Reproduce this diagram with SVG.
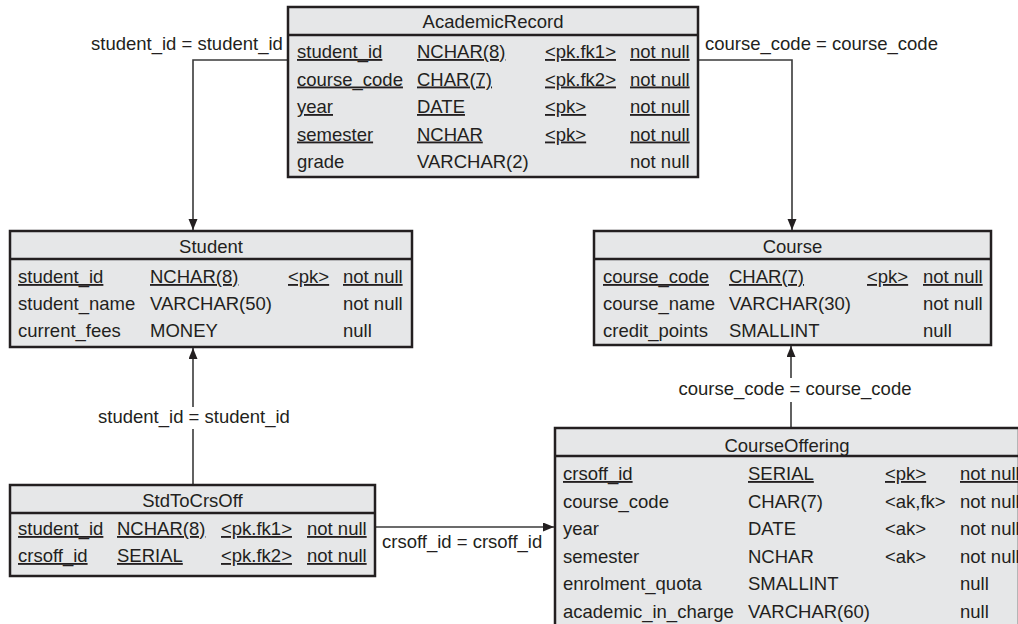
<svg xmlns="http://www.w3.org/2000/svg" width="1018" height="624" viewBox="0 0 1018 624">
  <style>
    text { font-family: "Liberation Sans", Arial, sans-serif; font-size: 18.5px; fill: #231f20; }
    .title { text-anchor: middle; }
    .u { text-decoration: underline; text-underline-offset: 3px; }
    .box { fill: #e6e7e8; stroke: #231f20; stroke-width: 2.5; }
    .div { stroke: #231f20; stroke-width: 2.5; }
    .conn { fill: none; stroke: #3a3a3a; stroke-width: 1.6; }
  </style>
  <defs>
    <marker id="arrow" markerUnits="userSpaceOnUse" markerWidth="12" markerHeight="10" refX="11" refY="4.5" orient="auto">
      <path d="M0,0 L11,4.5 L0,9 Z" fill="#231f20"/>
    </marker>
  </defs>
  <rect width="1018" height="624" fill="#ffffff"/>

  <!-- connectors -->
  <g id="connectors">
    <polyline class="conn" points="288,60 193,60 193,230" marker-end="url(#arrow)"/>
    <text x="91" y="50">student_id = student_id</text>

    <polyline class="conn" points="698,60 792,60 792,230" marker-end="url(#arrow)"/>
    <text x="705" y="50">course_code = course_code</text>

    <line class="conn" x1="193" y1="485" x2="193" y2="429"/>
    <line class="conn" x1="193" y1="407" x2="193" y2="348" marker-end="url(#arrow)"/>
    <text x="194" y="423" class="title">student_id = student_id</text>

    <line class="conn" x1="791" y1="428" x2="791" y2="402"/>
    <line class="conn" x1="791" y1="378" x2="791" y2="346" marker-end="url(#arrow)"/>
    <text x="795" y="395" class="title">course_code = course_code</text>

    <line class="conn" x1="375" y1="527" x2="554" y2="527" marker-end="url(#arrow)"/>
    <text x="382" y="548">crsoff_id = crsoff_id</text>
  </g>

  <!-- AcademicRecord -->
  <g id="AcademicRecord">
    <rect class="box" x="288" y="7" width="410" height="170"/>
    <line class="div" x1="288" y1="35" x2="698" y2="35"/>
    <text class="title" x="493" y="28">AcademicRecord</text>
    <text class="u" x="297" y="58">student_id</text>
    <text class="u" x="417" y="58">NCHAR(8)</text>
    <text class="u" x="545" y="58">&lt;pk.fk1&gt;</text>
    <text class="u" x="630" y="58">not null</text>
    <text class="u" x="297" y="85.5">course_code</text>
    <text class="u" x="417" y="85.5">CHAR(7)</text>
    <text class="u" x="545" y="85.5">&lt;pk.fk2&gt;</text>
    <text class="u" x="630" y="85.5">not null</text>
    <text class="u" x="297" y="113">year</text>
    <text class="u" x="417" y="113">DATE</text>
    <text class="u" x="545" y="113">&lt;pk&gt;</text>
    <text class="u" x="630" y="113">not null</text>
    <text class="u" x="297" y="140.5">semester</text>
    <text class="u" x="417" y="140.5">NCHAR</text>
    <text class="u" x="545" y="140.5">&lt;pk&gt;</text>
    <text class="u" x="630" y="140.5">not null</text>
    <text x="297" y="168">grade</text>
    <text x="417" y="168">VARCHAR(2)</text>
    <text x="630" y="168">not null</text>
  </g>

  <!-- Student -->
  <g id="Student">
    <rect class="box" x="10" y="231" width="402" height="116"/>
    <line class="div" x1="10" y1="259" x2="412" y2="259"/>
    <text class="title" x="211" y="253">Student</text>
    <text class="u" x="18" y="283">student_id</text>
    <text class="u" x="150" y="283">NCHAR(8)</text>
    <text class="u" x="288" y="283">&lt;pk&gt;</text>
    <text class="u" x="343" y="283">not null</text>
    <text x="18" y="310">student_name</text>
    <text x="150" y="310">VARCHAR(50)</text>
    <text x="343" y="310">not null</text>
    <text x="18" y="337">current_fees</text>
    <text x="150" y="337">MONEY</text>
    <text x="343" y="337">null</text>
  </g>

  <!-- Course -->
  <g id="Course">
    <rect class="box" x="594" y="231" width="397" height="114"/>
    <line class="div" x1="594" y1="259" x2="991" y2="259"/>
    <text class="title" x="792.5" y="253">Course</text>
    <text class="u" x="603" y="283">course_code</text>
    <text class="u" x="729" y="283">CHAR(7)</text>
    <text class="u" x="867" y="283">&lt;pk&gt;</text>
    <text class="u" x="923" y="283">not null</text>
    <text x="603" y="310">course_name</text>
    <text x="729" y="310">VARCHAR(30)</text>
    <text x="923" y="310">not null</text>
    <text x="603" y="337">credit_points</text>
    <text x="729" y="337">SMALLINT</text>
    <text x="923" y="337">null</text>
  </g>

  <!-- StdToCrsOff -->
  <g id="StdToCrsOff">
    <rect class="box" x="10" y="485" width="365" height="91"/>
    <line class="div" x1="10" y1="513" x2="375" y2="513"/>
    <text class="title" x="192.5" y="507">StdToCrsOff</text>
    <text class="u" x="18" y="535">student_id</text>
    <text class="u" x="117" y="535">NCHAR(8)</text>
    <text class="u" x="221" y="535">&lt;pk.fk1&gt;</text>
    <text class="u" x="307" y="535">not null</text>
    <text class="u" x="18" y="562">crsoff_id</text>
    <text class="u" x="117" y="562">SERIAL</text>
    <text class="u" x="221" y="562">&lt;pk.fk2&gt;</text>
    <text class="u" x="307" y="562">not null</text>
  </g>

  <!-- CourseOffering -->
  <g id="CourseOffering">
    <rect class="box" x="555" y="428" width="464" height="210"/>
    <line class="div" x1="555" y1="456" x2="1019" y2="456"/>
    <text class="title" x="787" y="452">CourseOffering</text>
    <text class="u" x="563" y="480">crsoff_id</text>
    <text class="u" x="748" y="480">SERIAL</text>
    <text class="u" x="885" y="480">&lt;pk&gt;</text>
    <text class="u" x="960" y="480">not null</text>
    <text x="563" y="507.5">course_code</text>
    <text x="748" y="507.5">CHAR(7)</text>
    <text x="885" y="507.5">&lt;ak,fk&gt;</text>
    <text x="960" y="507.5">not null</text>
    <text x="563" y="535">year</text>
    <text x="748" y="535">DATE</text>
    <text x="885" y="535">&lt;ak&gt;</text>
    <text x="960" y="535">not null</text>
    <text x="563" y="562.5">semester</text>
    <text x="748" y="562.5">NCHAR</text>
    <text x="885" y="562.5">&lt;ak&gt;</text>
    <text x="960" y="562.5">not null</text>
    <text x="563" y="590">enrolment_quota</text>
    <text x="748" y="590">SMALLINT</text>
    <text x="960" y="590">null</text>
    <text x="563" y="617.5">academic_in_charge</text>
    <text x="748" y="617.5">VARCHAR(60)</text>
    <text x="960" y="617.5">null</text>
  </g>
</svg>
